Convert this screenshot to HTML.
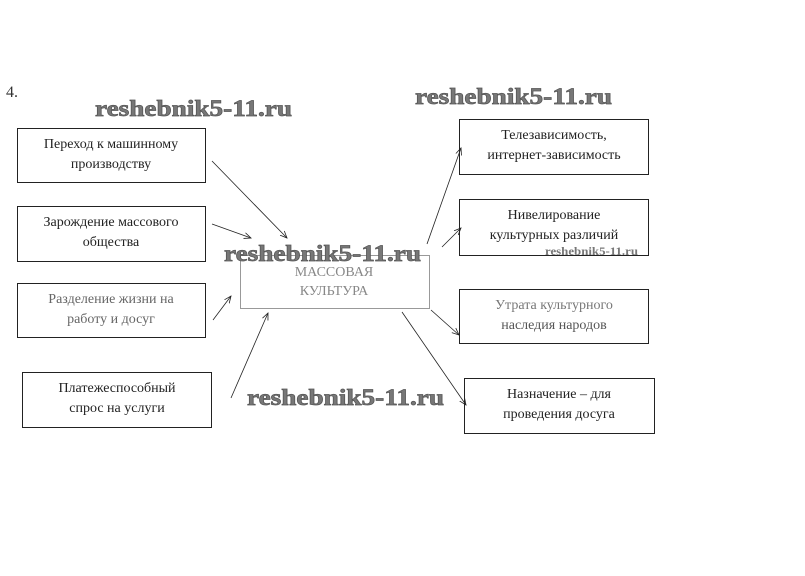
<!DOCTYPE html>
<html><head><meta charset="utf-8"><style>
html,body{margin:0;padding:0;background:#fff;width:805px;height:576px;overflow:hidden}
svg{display:block}
.t{font-family:"Liberation Serif","Noto Serif CJK SC",serif;font-size:14px;fill:#222;text-anchor:middle}
.w{font-family:"Liberation Serif",serif;font-weight:bold;font-size:23px;fill:#777;stroke:#555;stroke-width:0.7}
rect{fill:#fff;stroke:#222;stroke-width:1}
line{stroke:#222;stroke-width:0.8}
</style></head><body>
<svg width="805" height="576" viewBox="0 0 805 576">
<defs><marker id="a" markerWidth="8" markerHeight="8" refX="7" refY="4" orient="auto" markerUnits="userSpaceOnUse"><path d="M0,1 L7,4 L0,7" fill="none" stroke="#222" stroke-width="0.8"/></marker></defs>
<text x="6" y="97" style="font-family:'Liberation Serif',serif;font-size:16px;fill:#333">4.</text>

<rect x="17.5" y="128.5" width="188" height="54"/>
<text class="t" x="111" y="148">Переход к машинному</text>
<text class="t" x="111" y="168">производству</text>
<rect x="17.5" y="206.5" width="188" height="55"/>
<text class="t" x="111" y="226">Зарождение массового</text>
<text class="t" x="111" y="246">общества</text>
<rect x="17.5" y="283.5" width="188" height="54"/>
<text class="t" x="111" y="303" style="fill:#666">Разделение жизни на</text>
<text class="t" x="111" y="323" style="fill:#666">работу и досуг</text>
<rect x="22.5" y="372.5" width="189" height="55"/>
<text class="t" x="117" y="392">Платежеспособный</text>
<text class="t" x="117" y="412">спрос на услуги</text>

<rect x="240.5" y="255.5" width="189" height="53" style="stroke:#999"/>
<text class="t" x="334" y="276" style="fill:#888">МАССОВАЯ</text>
<text class="t" x="334" y="295" style="fill:#888">КУЛЬТУРА</text>

<rect x="459.5" y="119.5" width="189" height="55"/>
<text class="t" x="554" y="139">Телезависимость,</text>
<text class="t" x="554" y="159">интернет-зависимость</text>
<rect x="459.5" y="199.5" width="189" height="56"/>
<text class="t" x="554" y="219">Нивелирование</text>
<text class="t" x="554" y="239">культурных различий</text>
<rect x="459.5" y="289.5" width="189" height="54"/>
<text class="t" x="554" y="309" style="fill:#777">Утрата культурного</text>
<text class="t" x="554" y="329" style="fill:#555">наследия народов</text>
<rect x="464.5" y="378.5" width="190" height="55"/>
<text class="t" x="559" y="398">Назначение – для</text>
<text class="t" x="559" y="418">проведения досуга</text>

<line x1="212" y1="161" x2="287" y2="238" marker-end="url(#a)"/>
<line x1="212" y1="224" x2="251" y2="238" marker-end="url(#a)"/>
<line x1="213" y1="320" x2="231" y2="296" marker-end="url(#a)"/>
<line x1="231" y1="398" x2="268" y2="313" marker-end="url(#a)"/>
<line x1="427" y1="244" x2="461" y2="148" marker-end="url(#a)"/>
<line x1="442" y1="247" x2="461" y2="228" marker-end="url(#a)"/>
<line x1="431" y1="310" x2="459" y2="335" marker-end="url(#a)"/>
<line x1="402" y1="312" x2="466" y2="405" marker-end="url(#a)"/>

<text class="w" x="95" y="116" textLength="197" lengthAdjust="spacingAndGlyphs">reshebnik5-11.ru</text>
<text class="w" x="415" y="104" textLength="197" lengthAdjust="spacingAndGlyphs">reshebnik5-11.ru</text>
<text class="w" x="224" y="261" textLength="197" lengthAdjust="spacingAndGlyphs">reshebnik5-11.ru</text>
<text class="w" x="247" y="405" textLength="197" lengthAdjust="spacingAndGlyphs">reshebnik5-11.ru</text>
<text x="545" y="255" textLength="93" lengthAdjust="spacingAndGlyphs" style="font-family:'Liberation Serif',serif;font-weight:bold;font-size:12px;fill:#777">reshebnik5-11.ru</text>
</svg>
</body></html>
